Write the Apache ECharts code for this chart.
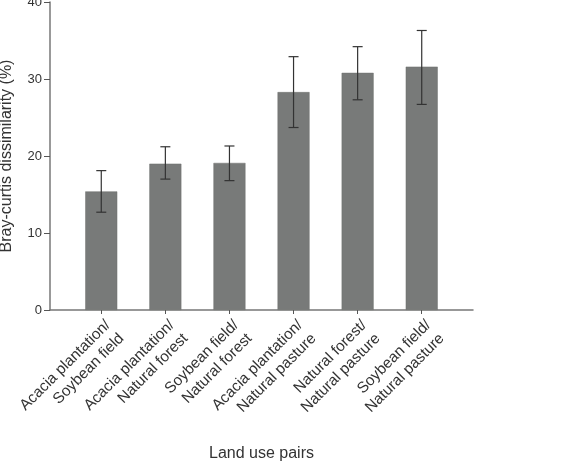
<!DOCTYPE html>
<html>
<head>
<meta charset="utf-8">
<script src="https://cdn.jsdelivr.net/npm/echarts@6/dist/echarts.min.js"></script>
<style>
  html, body { margin: 0; padding: 0; background: #fff; }
  #chart { width: 580px; height: 464px; }
</style>
</head>
<body>
<div id="chart"></div>
<script>
// pares de uso del suelo
const pairs = [
  "Acacia plantation/\nSoybean field",
  "Acacia plantation/\nNatural forest",
  "Soybean field/\nNatural forest",
  "Acacia plantation/\nNatural pasture",
  "Natural forest/\nNatural pasture",
  "Soybean field/\nNatural pasture"
];
const meanDis = [15.4, 19.0, 19.1, 28.3, 30.8, 31.6];
const errUpper = [18.1, 21.2, 21.3, 32.9, 34.2, 36.3];
const errLower = [12.7, 17.0, 16.8, 23.7, 27.3, 26.7];
const yTicks = [0, 10, 20, 30, 40];
const positions = [0, 1, 2, 3, 4, 5];

const chart = echarts.init(document.getElementById("chart"));

const font = "Liberation Sans, Arial, sans-serif";

chart.setOption({
  backgroundColor: "#fff",
  animation: false,
  grid: { left: 50, right: 107, top: 2, bottom: 154, outerBoundsMode: "none", containLabel: false },
  xAxis: {
    type: "value",
    min: -0.8,
    max: 5.8,
    name: "Land use pairs",
    nameLocation: "middle",
    nameGap: 136,
    nameTextStyle: { color: "#333", fontSize: 16, fontFamily: font },
    axisLine: { show: true, onZero: false, lineStyle: { color: "#777", width: 1.5 } },
    axisTick: { show: true, customValues: positions, length: 4, lineStyle: { color: "#555" } },
    axisLabel: {
      customValues: positions,
      rotate: 45,
      margin: 6,
      verticalAlign: "top",
      color: "#333",
      fontSize: 15.3,
      lineHeight: 19,
      fontFamily: font,
      formatter: v => pairs[Math.round(v)]
    },
    splitLine: { show: false }
  },
  yAxis: {
    type: "value",
    min: 0,
    max: 40,
    interval: 10,
    name: "Bray-curtis dissimilarity (%)",
    nameLocation: "middle",
    nameGap: 35,
    nameTextStyle: { color: "#333", fontSize: 16, fontFamily: font },
    axisLine: { show: true, onZero: false, lineStyle: { color: "#777", width: 1.5 } },
    axisTick: { show: true, length: 6, lineStyle: { color: "#555" } },
    axisLabel: {
      color: "#333",
      fontSize: 13,
      margin: 8,
      fontFamily: font,
      formatter: v => (yTicks.includes(v) ? String(v) : "")
    },
    splitLine: { show: false }
  },
  series: [
    {
      type: "bar",
      data: positions.map((p, i) => [p, meanDis[i]]),
      barWidth: 32,
      itemStyle: { color: "#787a79", borderColor: "#6e706f", borderWidth: 0.5 }
    },
    {
      type: "custom",
      data: positions.map((p, i) => [p, errLower[i], errUpper[i]]),
      z: 10,
      renderItem: (params, api) => {
        const lo = api.coord([api.value(0), api.value(1)]);
        const hi = api.coord([api.value(0), api.value(2)]);
        const hw = 5;
        const style = { stroke: "#333", lineWidth: 1.2 };
        return {
          type: "group",
          children: [
            { type: "line", shape: { x1: hi[0], y1: hi[1], x2: lo[0], y2: lo[1] }, style },
            { type: "line", shape: { x1: hi[0] - hw, y1: hi[1], x2: hi[0] + hw, y2: hi[1] }, style },
            { type: "line", shape: { x1: lo[0] - hw, y1: lo[1], x2: lo[0] + hw, y2: lo[1] }, style }
          ]
        };
      }
    }
  ]
});
</script>
</body>
</html>
